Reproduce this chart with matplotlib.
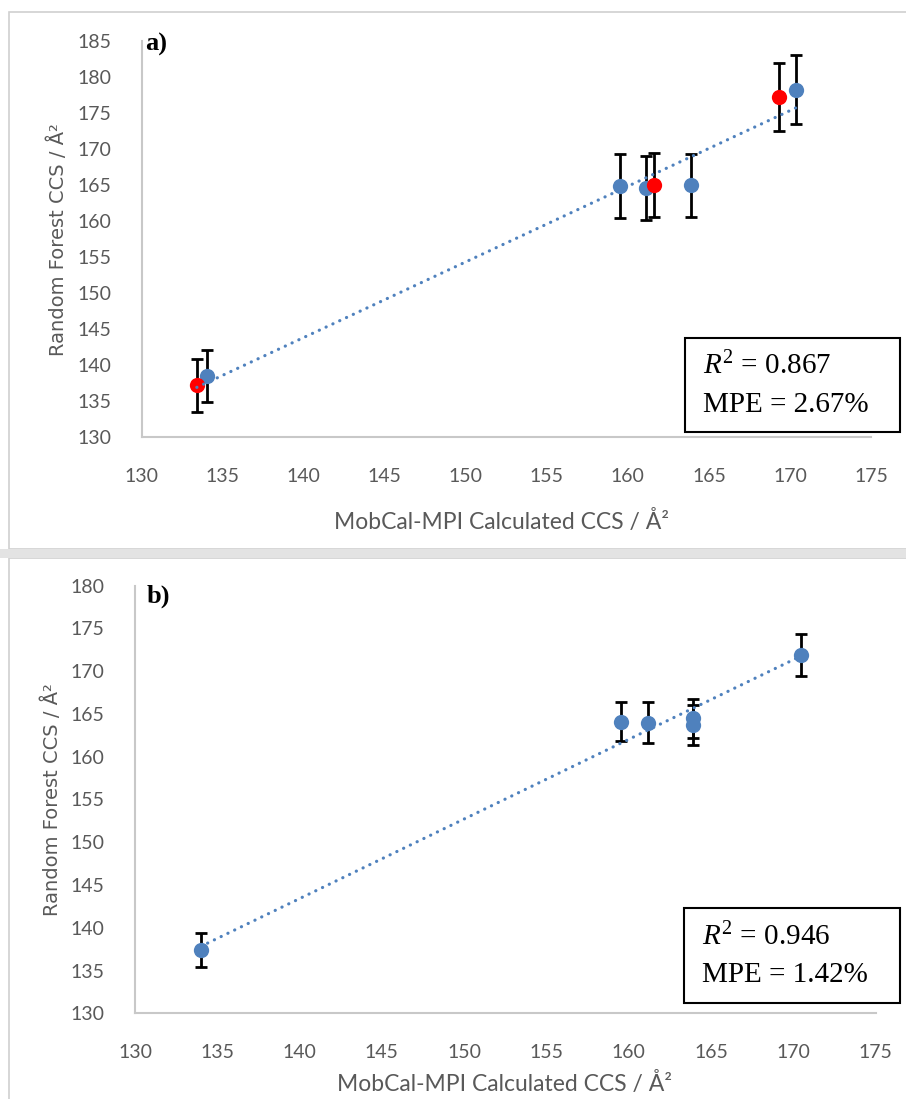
import numpy as np
import matplotlib
matplotlib.use("Agg")
import matplotlib.pyplot as plt
from matplotlib.patches import Rectangle

plt.rcParams['mathtext.fontset'] = 'custom'
plt.rcParams['mathtext.rm'] = 'Liberation Serif'
plt.rcParams['mathtext.it'] = 'Liberation Serif:italic'

# ---------------- data ----------------
a_blue_x = [134.05, 159.5, 161.1, 163.9, 170.4]
a_blue_y = [138.5, 164.85, 164.6, 164.95, 178.2]
a_blue_err = [3.65, 4.4, 4.45, 4.4, 4.75]
a_red_x = [133.4, 161.6, 169.3]
a_red_y = [137.2, 165.0, 177.2]
a_red_err = [3.65, 4.4, 4.7]

b_x = [134.0, 159.5, 161.15, 163.9, 163.9, 170.45]
b_y = [137.4, 164.1, 164.0, 164.5, 163.7, 171.9]
b_err = [1.95, 2.3, 2.35, 2.3, 2.3, 2.45]

x_ticks = [130, 135, 140, 145, 150, 155, 160, 165, 170, 175]
a_y_ticks = [130, 135, 140, 145, 150, 155, 160, 165, 170, 175, 180, 185]
b_y_ticks = [130, 135, 140, 145, 150, 155, 160, 165, 170, 175, 180]

a_stats = ["0.867", "2.67%"]
b_stats = ["0.946", "1.42%"]

W, H = 906, 1099
fig = plt.figure(figsize=(W / 100, H / 100), dpi=100)

def fx(px):
    return px / W

def fy(py):
    return 1 - py / H

BLUE = '#4f81bd'
RED = '#ff0000'
GRAY_TXT = '#595959'
SPINE = '#c8c8c8'

# panel frames / separator
fig.add_artist(Rectangle((fx(8.5), fy(549)), 1, fy(11.5) - fy(549), transform=fig.transFigure,
                         fill=False, edgecolor='#d0d0d0', lw=1.2))
fig.add_artist(Rectangle((fx(8.5), fy(1110)), 1, fy(558) - fy(1110), transform=fig.transFigure,
                         fill=False, edgecolor='#d0d0d0', lw=1.2))
fig.add_artist(Rectangle((0, fy(558)), 1, fy(549) - fy(558), transform=fig.transFigure,
                         facecolor='#e3e3e3', edgecolor='none'))


def make_panel(rect, ylim, yticks, series, letter, letter_pos, stats, box, txt_y, txt_x,
               ylab_pos, xlab_pos):
    l, t, r, b = rect
    ax = fig.add_axes([fx(l), fy(b), fx(r) - fx(l), fy(t) - fy(b)])
    ax.set_xlim(130, 175)
    ax.set_ylim(*ylim)
    ax.set_xticks(x_ticks)
    ax.set_yticks(yticks)
    for s in ['top', 'right']:
        ax.spines[s].set_visible(False)
    for s in ['left', 'bottom']:
        ax.spines[s].set_color(SPINE)
        ax.spines[s].set_linewidth(1.5)
    ax.tick_params(length=0, labelsize=14, labelcolor=GRAY_TXT, pad=22)
    for lab in ax.get_xticklabels() + ax.get_yticklabels():
        lab.set_fontfamily('Lato')
    allx, ally = [], []
    for (xs, ys, es, col) in series:
        ax.errorbar(xs, ys, yerr=es, fmt='none', ecolor='black', elinewidth=2.0,
                    capsize=4.5, capthick=2.0, zorder=2)
        ax.plot(xs, ys, 'o', color=col, markersize=11, markeredgewidth=0, zorder=3)
        allx += list(xs)
        ally += list(ys)
    k, c = np.polyfit(allx, ally, 1)
    xx = np.array([min(allx), max(allx)])
    ax.plot(xx, k * xx + c, color=BLUE, lw=2.3, linestyle=(0, (0.05, 2.3)),
            dash_capstyle='round', zorder=4)
    # letter
    fig.text(fx(letter_pos[0]), fy(letter_pos[1]), letter, fontfamily='Liberation Serif',
             fontweight='bold', fontsize=19, ha='left', va='center')
    # stats box
    bl, bt, br, bb = box
    fig.add_artist(Rectangle((fx(bl), fy(bb)), fx(br) - fx(bl), fy(bt) - fy(bb),
                             transform=fig.transFigure, fill=False, edgecolor='black', lw=1.5))
    fig.text(fx(txt_x), fy(txt_y[0]), r'$R^2$' + ' = ' + stats[0], fontfamily='Liberation Serif',
             fontsize=21, ha='left', va='center')
    fig.text(fx(txt_x), fy(txt_y[1]), 'MPE = ' + stats[1], fontfamily='Liberation Serif',
             fontsize=21, ha='left', va='center')
    # axis labels
    fig.text(fx(ylab_pos[0]), fy(ylab_pos[1]), 'Random Forest CCS / Å²', rotation=90,
             fontfamily='DejaVu Sans', fontsize=14, color=GRAY_TXT, ha='center', va='center')
    fig.text(fx(xlab_pos[0]), fy(xlab_pos[1]), 'MobCal-MPI Calculated CCS / Å²',
             fontfamily='Lato', fontsize=16.5, color=GRAY_TXT, ha='center', va='center')
    return ax


make_panel((141.7, 40.7, 871, 437.3), (130, 185), a_y_ticks,
           [(a_blue_x, a_blue_y, a_blue_err, BLUE), (a_red_x, a_red_y, a_red_err, RED)],
           'a)', (145, 44), a_stats, (685, 338, 899.5, 432), (366, 405), 703,
           (58, 239.5), (501, 521))

make_panel((135, 585.7, 875.7, 1013.3), (130, 180), b_y_ticks,
           [(b_x, b_y, b_err, BLUE)],
           'b)', (147, 596), b_stats, (684, 908, 899.5, 1002.5), (937, 975), 702,
           (52, 800), (505, 1084))

fig.savefig('out.png', dpi=100)
